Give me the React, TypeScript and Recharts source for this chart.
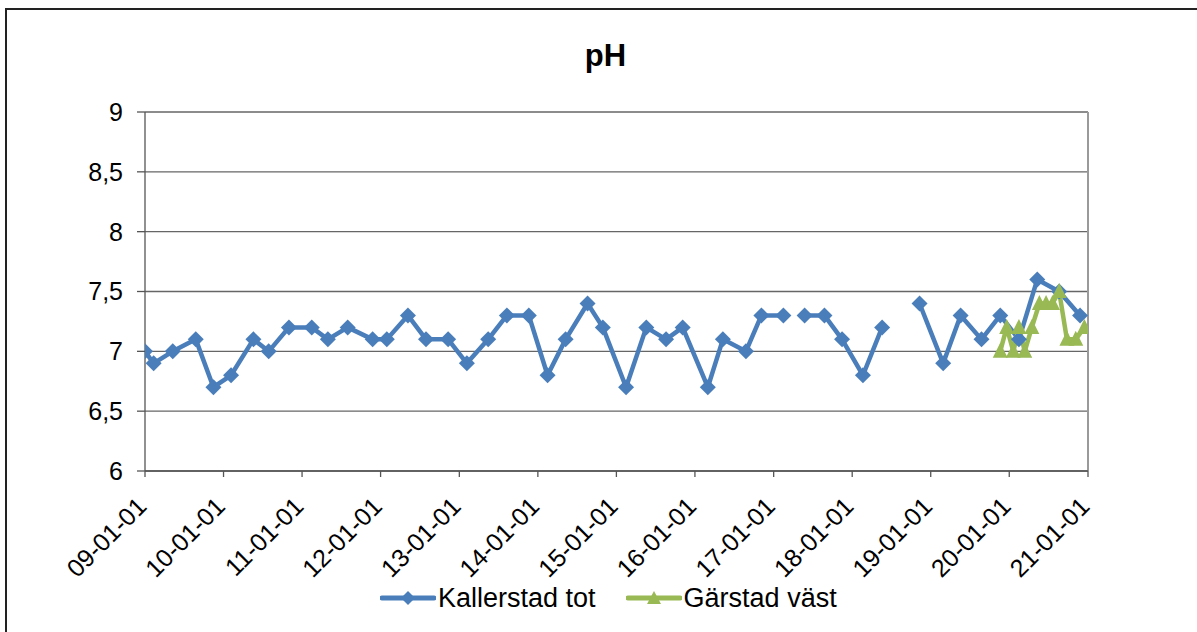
import React from 'react';
import { LineChart, Line, XAxis, YAxis, CartesianGrid, ReferenceLine, Legend } from 'recharts';

const kallerstadDates = [
  '2009-01-01', '2009-02-10', '2009-05-10', '2009-08-25', '2009-11-15',
  '2010-02-05', '2010-05-20', '2010-07-30', '2010-11-01',
  '2011-02-15', '2011-05-01', '2011-08-01', '2011-11-25',
  '2012-01-30', '2012-05-07', '2012-07-30', '2012-11-10',
  '2013-02-05', '2013-05-15', '2013-08-10', '2013-11-20',
  '2014-02-15', '2014-05-10', '2014-08-20', '2014-10-30',
  '2015-02-15', '2015-05-20', '2015-08-20', '2015-11-05',
  '2016-03-01', '2016-05-10', '2016-08-25', '2016-11-05',
  '2017-02-15', '2017-04-05', '2017-05-25', '2017-08-25', '2017-11-15',
  '2018-02-20', '2018-05-20', '2018-08-15', '2018-11-10',
  '2019-02-28', '2019-05-20', '2019-08-25', '2019-11-20',
  '2020-02-15', '2020-05-10', '2020-08-20', '2020-11-25',
];
const kallerstadValues: (number | null)[] = [
  7.0, 6.9, 7.0, 7.1, 6.7,
  6.8, 7.1, 7.0, 7.2,
  7.2, 7.1, 7.2, 7.1,
  7.1, 7.3, 7.1, 7.1,
  6.9, 7.1, 7.3, 7.3,
  6.8, 7.1, 7.4, 7.2,
  6.7, 7.2, 7.1, 7.2,
  6.7, 7.1, 7.0, 7.3,
  7.3, null, 7.3, 7.3, 7.1,
  6.8, 7.2, null, 7.4,
  6.9, 7.3, 7.1, 7.3,
  7.1, 7.6, 7.5, 7.3,
];

const garstadDates = [
  '2019-11-20', '2019-12-20', '2020-01-20', '2020-02-15', '2020-03-13',
  '2020-04-15', '2020-05-20', '2020-06-20', '2020-07-20', '2020-08-20',
  '2020-09-25', '2020-11-05', '2020-12-15',
];
const garstadValues = [
  7.0, 7.2, 7.0, 7.2, 7.0,
  7.2, 7.4, 7.4, 7.4, 7.5,
  7.1, 7.1, 7.2,
];

const yearTicks = ['2009-01-01', '2010-01-01', '2011-01-01', '2012-01-01', '2013-01-01', '2014-01-01',
  '2015-01-01', '2016-01-01', '2017-01-01', '2018-01-01', '2019-01-01', '2020-01-01', '2021-01-01'];
const yTicks = [6, 6.5, 7, 7.5, 8, 8.5, 9];

const BLUE = '#4A7EBB';
const GREEN = '#98B954';
const FONT = 'Arial, "Liberation Sans", sans-serif';

const toT = (s: string) => {
  const [y, m, d] = s.split('-').map(Number);
  return Date.UTC(y, m - 1, d);
};

const kallerstadData = kallerstadDates.map((d, i) => ({ t: toT(d), v: kallerstadValues[i] }));
const garstadData = garstadDates.map((d, i) => ({ t: toT(d), v: garstadValues[i] }));
const xTicks = yearTicks.map(toT);
const X_MIN = xTicks[0];
const X_MAX = xTicks[xTicks.length - 1];

const fmtDate = (t: number) => {
  const d = new Date(t);
  const yy = String(d.getUTCFullYear() % 100).padStart(2, '0');
  const mm = String(d.getUTCMonth() + 1).padStart(2, '0');
  const dd = String(d.getUTCDate()).padStart(2, '0');
  return `${yy}-${mm}-${dd}`;
};

const Diamond = (props: any) => {
  const { cx, cy, payload } = props;
  const r = 8;
  if (cx == null || cy == null || !payload || payload.v == null) return <g />;
  return <polygon points={`${cx},${cy - r} ${cx + r},${cy} ${cx},${cy + r} ${cx - r},${cy}`} fill={BLUE} stroke="none" />;
};

const Triangle = (props: any) => {
  const { cx, cy, payload } = props;
  const r = 7.5;
  if (cx == null || cy == null || !payload || payload.v == null) return <g />;
  return <polygon points={`${cx},${cy - r - 1} ${cx + r},${cy + r - 1} ${cx - r},${cy + r - 1}`} fill={GREEN} stroke="none" />;
};

const XTick = (props: any) => {
  const { x, y, payload } = props;
  const ax = x + 3;
  const ay = y + 29;
  return (
    <text x={ax} y={ay} transform={`rotate(-45, ${ax}, ${ay})`} textAnchor="end" fontSize={25} fontFamily={FONT} fill="#000">
      {fmtDate(payload.value)}
    </text>
  );
};

const LegendContent = () => {
  const item = (color: string, label: string, marker: 'd' | 't', ml: number) => (
    <div style={{ display: 'flex', alignItems: 'center', marginLeft: ml }}>
      <svg width={56} height={20}>
        <line x1={2} y1={10} x2={54} y2={10} stroke={color} strokeWidth={5} strokeLinecap="round" />
        {marker === 'd' ? (
          <polygon points="28,3 35,10 28,17 21,10" fill={color} />
        ) : (
          <polygon points="28,3 35,16 21,16" fill={color} />
        )}
      </svg>
      <span style={{ fontFamily: FONT, fontSize: 27, color: '#000', marginLeft: 2 }}>{label}</span>
    </div>
  );
  return (
    <div style={{ display: 'flex', alignItems: 'center', height: 32 }}>
      {item(BLUE, 'Kallerstad tot', 'd', 372)}
      {item(GREEN, 'Gärstad väst', 't', 30)}
    </div>
  );
};

export default function App() {
  return (
    <div style={{ position: 'relative', width: 1181, height: 616, overflow: 'visible' }}>
      <div style={{ position: 'fixed', left: 5, top: 8, width: 2, height: 624, background: '#222', zIndex: 5 }} />
      <div style={{ position: 'fixed', left: 5, top: 8, width: 1192, height: 2, background: '#222', zIndex: 5 }} />
      <div style={{ position: 'absolute', left: 0, width: 1181, top: 30, textAlign: 'center', fontFamily: FONT, fontWeight: 'bold', fontSize: 31, color: '#000', paddingLeft: 14, boxSizing: 'border-box' }}>
        pH
      </div>
      <LineChart width={1181} height={616} margin={{ top: 104, right: 101, left: 0, bottom: 32 }}>
        <CartesianGrid vertical={false} stroke="#666" strokeWidth={1.3} />
        <XAxis
          dataKey="t"
          type="number"
          domain={[X_MIN, X_MAX]}
          ticks={xTicks}
          allowDataOverflow
          tick={<XTick />}
          tickSize={6}
          height={89}
          axisLine={{ stroke: '#555', strokeWidth: 1.3 }}
          tickLine={{ stroke: '#555', strokeWidth: 1.3 }}
          interval={0}
        />
        <YAxis
          type="number"
          domain={[6, 9]}
          ticks={yTicks}
          width={137}
          tickSize={8}
          tickMargin={14}
          tickFormatter={(v: number) => String(v).replace('.', ',')}
          tick={{ fontSize: 25, fontFamily: FONT, fill: '#000' }}
          axisLine={{ stroke: '#555', strokeWidth: 1.3 }}
          tickLine={{ stroke: '#555', strokeWidth: 1.3 }}
          interval={0}
        />
        <ReferenceLine x={X_MAX} stroke="#9a9a9a" strokeWidth={2} />
        <Legend verticalAlign="bottom" align="left" content={<LegendContent />} wrapperStyle={{ height: 32, top: 574, bottom: 'auto' }} />
        <Line
          data={kallerstadData}
          dataKey="v"
          stroke={BLUE}
          strokeWidth={4.5}
          strokeLinejoin="round"
          dot={(p: any) => <Diamond key={`d-${p.index}`} {...p} />}
          activeDot={false}
          isAnimationActive={false}
          connectNulls={false}
          name="Kallerstad tot"
        />
        <Line
          data={garstadData}
          dataKey="v"
          stroke={GREEN}
          strokeWidth={4.5}
          strokeLinejoin="round"
          dot={(p: any) => <Triangle key={`t-${p.index}`} {...p} />}
          activeDot={false}
          isAnimationActive={false}
          name="Gärstad väst"
        />
      </LineChart>
    </div>
  );
}
